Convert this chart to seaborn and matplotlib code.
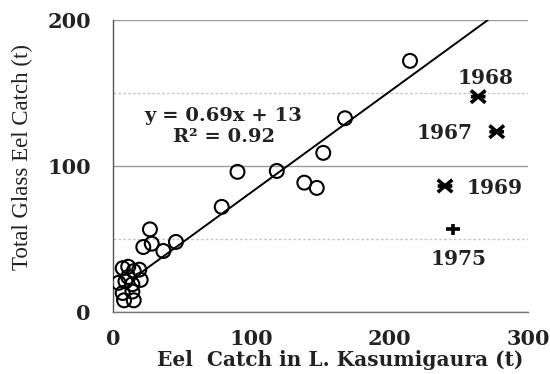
import matplotlib
matplotlib.use("Agg")
import matplotlib.pyplot as plt
from matplotlib.path import Path
import seaborn as sns
import numpy as np
import pandas as pd

# ---- data ----
circle_x = [214.7, 167.7, 152, 118.4, 90, 138.3, 147.3, 78.6, 26.7, 21.9, 28, 36.4, 45.5,
            4, 7, 11, 15, 19, 20, 9, 14, 7, 14, 8, 15, 11]
circle_y = [172, 132.7, 109, 96.6, 96, 88.6, 85, 72, 56.6, 44.5, 46.8, 41.8, 48,
            20, 30, 31, 28, 29, 22, 21, 19, 13, 14, 8, 8, 24]
star_years = ["1968", "1967", "1969"]
star_x = [264, 277.4, 240]
star_y = [147.5, 123.5, 86.3]
plus_years = ["1975"]
plus_x = [246]
plus_y = [56.6]
fit_slope = 0.69
fit_intercept = 13
fit_x_start = 20
eq_text = "y = 0.69x + 13"
r2_text = "R² = 0.92"
x_ticks = [0, 100, 200, 300]
y_ticks = [0, 100, 200]
x_label = "Eel  Catch in L. Kasumigaura (t)"
y_label = "Total Glass Eel Catch (t)"

sns.set_theme(style="white")
plt.rcParams["font.family"] = ["DejaVu Serif"]

fig = plt.figure(figsize=(5.5, 3.74), dpi=100)
ax = fig.add_axes([113/550, 1-312/374, 415/550, 292/374])

circles = pd.DataFrame({"x": circle_x, "y": circle_y})
sns.scatterplot(data=circles, x="x", y="y", ax=ax, marker="o", s=100,
                fc="none", ec="black", linewidth=1.5, zorder=4)

# X with a horizontal bar (spreadsheet "star" marker)
star_path = Path([(-1, -0.85), (1, 0.85), (-1, 0.85), (1, -0.85), (-1, 0), (1, 0)],
                 [Path.MOVETO, Path.LINETO, Path.MOVETO, Path.LINETO, Path.MOVETO, Path.LINETO])
stars = pd.DataFrame({"x": star_x, "y": star_y})
sns.scatterplot(data=stars, x="x", y="y", ax=ax, marker=star_path, s=110,
                fc="none", ec="black", linewidth=2.6, zorder=4)
plus_path = Path([(-1, 0), (1, 0), (0, -0.8), (0, 0.8)],
                 [Path.MOVETO, Path.LINETO, Path.MOVETO, Path.LINETO])
plus = pd.DataFrame({"x": plus_x, "y": plus_y})
sns.scatterplot(data=plus, x="x", y="y", ax=ax, marker=plus_path, s=100,
                fc="none", ec="black", linewidth=2.6, zorder=4)

# trend line clipped at the top of the axis
x_end = (200 - fit_intercept) / fit_slope
line_x = np.array([fit_x_start, x_end])
line = pd.DataFrame({"x": line_x, "y": fit_slope * line_x + fit_intercept})
sns.lineplot(data=line, x="x", y="y", ax=ax, color="black", linewidth=1.4, zorder=3)

ax.set_xlim(0, 300)
ax.set_ylim(0, 200)
ax.set_xticks(x_ticks)
ax.set_yticks(y_ticks)
ax.set_yticks([50, 150], minor=True)

# gridlines
ax.grid(axis="y", which="major", color="#9a9a9a", linewidth=1.0, linestyle="-")
ax.grid(axis="y", which="minor", color="#c8c8c8", linewidth=1.0, linestyle=(0, (2, 1.5)))
ax.set_axisbelow(True)

for s in ["top", "right"]:
    ax.spines[s].set_visible(False)
ax.spines["left"].set_color("#555555")
ax.spines["bottom"].set_color("#777777")
ax.spines["left"].set_linewidth(1.0)
ax.spines["bottom"].set_linewidth(1.0)

ax.tick_params(axis="y", which="major", direction="out", length=6, width=1,
               color="#555555", pad=10, labelsize=15)
ax.tick_params(axis="y", which="minor", length=0)
ax.tick_params(axis="x", which="major", direction="out", length=4, width=1,
               color="#777777", pad=8, labelsize=15)
for lab in ax.get_xticklabels() + ax.get_yticklabels():
    lab.set_fontweight("bold")
    lab.set_color("#222222")

ax.set_xlabel(x_label, fontsize=14.5, fontweight="bold", color="#222222", va="center")
ax.xaxis.set_label_coords(0.547, -0.164)
ax.set_ylabel(y_label, fontsize=16.5, family="Liberation Serif", color="#222222", va="center")
ax.yaxis.set_label_coords(-0.219, 0.53)

# annotations
ax.text(80, 134, eq_text, fontsize=14, fontweight="bold", ha="center", va="center", color="#222222")
ax.text(80, 120, r2_text, fontsize=14, fontweight="bold", ha="center", va="center", color="#222222")

label_pos = {"1968": (269, 160), "1967": (240, 122.8), "1969": (276, 85), "1975": (249.7, 36)}
for yr in star_years + plus_years:
    lx, ly = label_pos[yr]
    ax.text(lx, ly, yr, fontsize=14.5, fontweight="bold", ha="center", va="center", color="#222222")

ax.set_facecolor("white")
fig.patch.set_facecolor("white")
fig.savefig("out.png", dpi=100)
